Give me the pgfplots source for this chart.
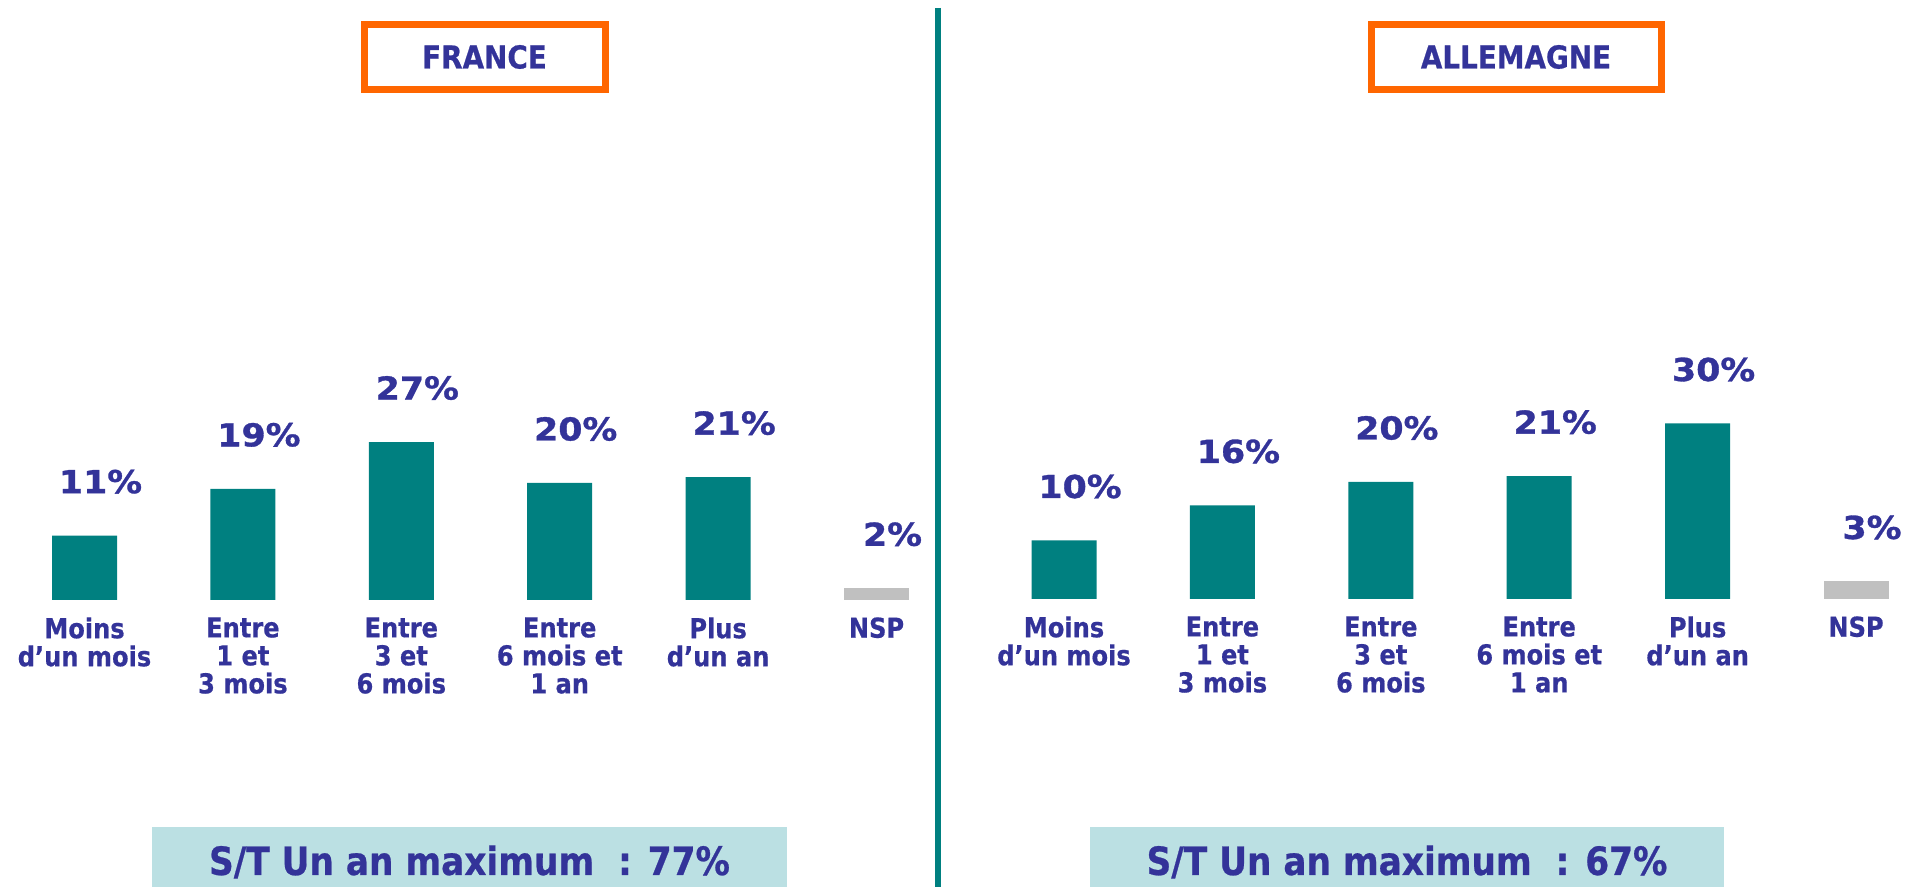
\documentclass[border=0pt]{standalone}
\usepackage{pgfplots}
\pgfplotsset{compat=1.18}
\usepackage{fontspec}
\setmainfont{DejaVu Sans}
\newfontfamily\catfont[FakeStretch=0.88, FakeBold=0.6]{DejaVu Sans}
\newfontfamily\valfont[FakeStretch=1.1, FakeBold=1.0]{DejaVu Sans}
\definecolor{txtblue}{HTML}{333399}
\definecolor{barteal}{HTML}{008080}
\definecolor{nspgray}{HTML}{C0C0C0}
\definecolor{boxorange}{HTML}{FF6600}
\definecolor{boxbg}{HTML}{BBE0E3}

\pgfplotsset{
  panel/.style={
    anchor=south west,
    y=2.925pt, ymin=0, ymax=36,
    xmin=-0.5, xmax=5.5,
    clip=false,
    axis lines*=left,
    axis line style={draw=none},
    ytick=\empty,
    xtick={0,1,2,3,4,5},
    xticklabels={{Moins\\d’un mois},{Entre\\1 et\\3 mois},{Entre\\3 et\\6 mois},{Entre\\6 mois et\\1 an},{Plus\\d’un an},{NSP}},
    major tick length=0pt,
    xticklabel style={align=center, anchor=north, inner sep=0pt, yshift=-8.5pt, text=txtblue, font=\catfont\bfseries\fontsize{13.7}{14}\selectfont},
    ybar, bar width=32.5pt,
    point meta=y,
    nodes near coords={\pgfmathprintnumber[assume math mode=true]{\pgfplotspointmeta}\%},
    every node near coord/.append style={anchor=center, xshift=8pt, yshift=27pt, text=txtblue, font=\valfont\bfseries\fontsize{15.8}{18}\selectfont},
  }
}

\begin{document}
\begin{tikzpicture}
\useasboundingbox (0,0) rectangle (960.5pt,443.5pt);

% France
\begin{axis}[panel, at={(2.65pt,143.5pt)}, x=79.2pt]
\addplot[fill=barteal, draw=none, bar shift=0pt] coordinates {(0,11) (1,19) (2,27) (3,20) (4,21)};
\addplot[fill=nspgray, draw=none, bar shift=0pt] coordinates {(5,2)};
\end{axis}

% Allemagne
\begin{axis}[panel, at={(492.4pt,144pt)}, x=79.2pt]
\addplot[fill=barteal, draw=none, bar shift=0pt] coordinates {(0,10) (1,16) (2,20) (3,21) (4,30)};
\addplot[fill=nspgray, draw=none, bar shift=0pt] coordinates {(5,3)};
\end{axis}

\begin{scope}[x=0.5pt, y=-0.5pt, yshift=443.5pt]
  % titles
  \draw[boxorange, line width=3.5pt] (364,24.5) rectangle (605,89.5);
  \node[text=txtblue, font=\catfont\bfseries\fontsize{15.8}{18}\selectfont] at (484.5,57) {FRANCE};
  \draw[boxorange, line width=3.5pt] (1371.5,24.5) rectangle (1661,89.5);
  \node[text=txtblue, font=\catfont\bfseries\fontsize{15.8}{18}\selectfont] at (1516,57) {ALLEMAGNE};
  % separator
  \draw[barteal, line width=3pt] (938,8) -- (938,887);
  % summary boxes
  \fill[boxbg] (152,827) rectangle (787,887);
  \fill[boxbg] (1090,827) rectangle (1724,887);
  \node[anchor=base, inner sep=0pt, text=txtblue, font=\catfont\bfseries\fontsize{19.5}{22}\selectfont] at (469.5,875) {S/T Un an maximum~~: 77\%};
  \node[anchor=base, inner sep=0pt, text=txtblue, font=\catfont\bfseries\fontsize{19.5}{22}\selectfont] at (1407,875) {S/T Un an maximum~~: 67\%};
\end{scope}
\end{tikzpicture}
\end{document}
